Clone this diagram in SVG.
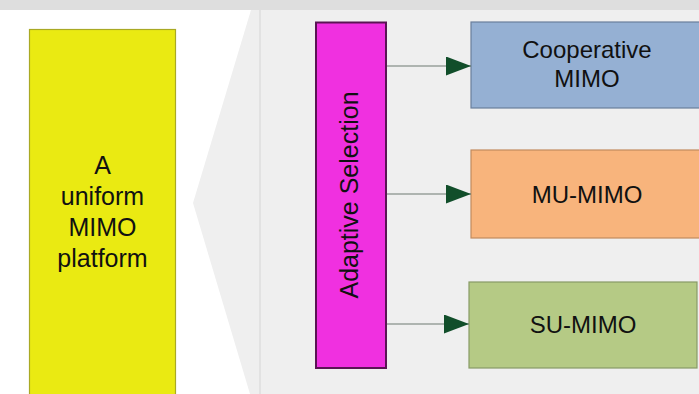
<svg xmlns="http://www.w3.org/2000/svg" width="699" height="394" viewBox="0 0 699 394">
<style>
.t{font-family:"Liberation Sans",Arial,sans-serif;fill:#111111;text-anchor:middle}
.c{stroke:#6e7a72;stroke-width:1.2;fill:none}
</style>
<defs>
<marker id="ah" markerWidth="25" markerHeight="19" refX="25" refY="9.5" orient="auto" markerUnits="userSpaceOnUse">
<path d="M0,0 L25,9.5 L0,19 Z" fill="#114e2a"/>
</marker>
</defs>
<rect width="699" height="394" fill="#ffffff"/>
<rect x="0" y="0" width="699" height="10" fill="#dedede"/>
<g id="background">
<rect x="11" y="10" width="688" height="384" fill="#ffffff"/>
<polygon points="251,10 699,10 699,394 250,394 193,203" fill="#efefef"/>
<line x1="260" y1="10" x2="260" y2="394" stroke="#e2e2e2" stroke-width="2"/>
</g>
<g id="platform">
<rect x="29.5" y="29.5" width="146" height="380" fill="#eaea12" stroke="#a9a924" stroke-width="1.2"/>
<text class="t" font-size="25" x="102.5" y="174">A</text>
<text class="t" font-size="25" x="102.5" y="205">uniform</text>
<text class="t" font-size="25" x="102.5" y="236">MIMO</text>
<text class="t" font-size="25" x="102.5" y="267">platform</text>
</g>
<g id="adaptive">
<rect x="316" y="22.5" width="70" height="345.5" fill="#f030e0" stroke="#5a1454" stroke-width="2"/>
<text class="t" font-size="25" transform="translate(358,195) rotate(-90)">Adaptive Selection</text>
</g>
<g id="coop">
<rect x="471" y="22" width="240" height="86" fill="#95b0d3" stroke="#6a7f9c" stroke-width="1.2"/>
<text class="t" font-size="24" x="587" y="58">Cooperative</text>
<text class="t" font-size="24" x="587" y="87">MIMO</text>
</g>
<g id="mumimo">
<rect x="471" y="150" width="240" height="88" fill="#f8b47c" stroke="#c28a5e" stroke-width="1.2"/>
<text class="t" font-size="24" x="587" y="203">MU-MIMO</text>
</g>
<g id="sumimo">
<rect x="469" y="282" width="228" height="86" fill="#b5ca85" stroke="#889a66" stroke-width="1.2"/>
<text class="t" font-size="24" x="583" y="333">SU-MIMO</text>
</g>
<g id="connectors">
<line class="c" x1="387" y1="66" x2="471" y2="66" marker-end="url(#ah)"/>
<line class="c" x1="387" y1="194" x2="471" y2="194" marker-end="url(#ah)"/>
<line class="c" x1="387" y1="324" x2="469" y2="324" marker-end="url(#ah)"/>
</g>
</svg>
